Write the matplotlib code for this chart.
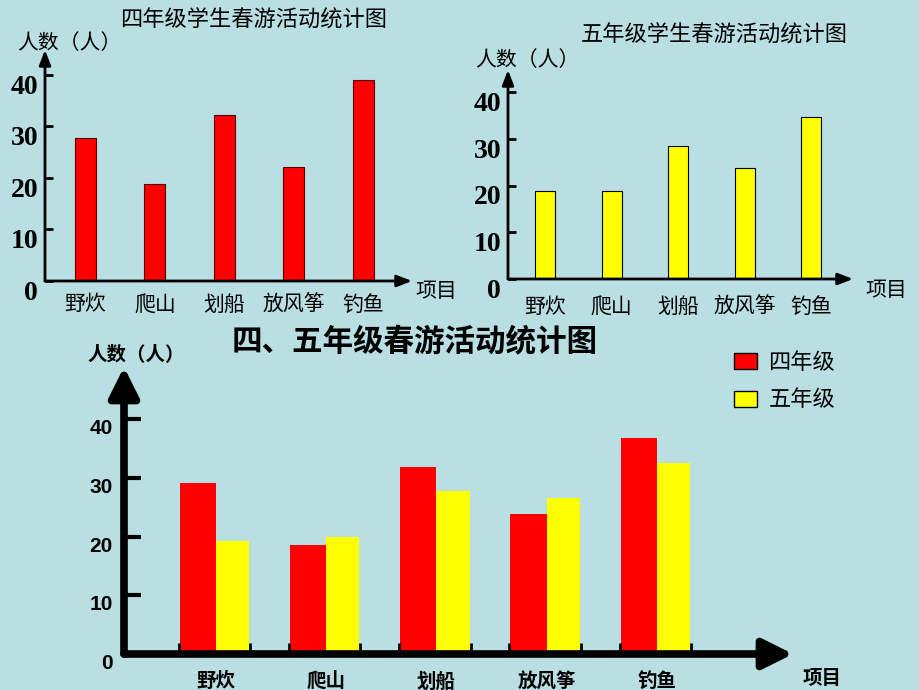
import matplotlib
matplotlib.use('Agg')
import matplotlib.pyplot as plt
import numpy as np

plt.rcParams['font.family'] = ['Noto Sans CJK SC', 'DejaVu Sans']

categories = ['野炊', '爬山', '划船', '放风筝', '钓鱼']
grade4_top = [27.8, 18.8, 32.2, 22.1, 39.0]
grade5_top = [18.8, 18.8, 28.4, 23.7, 34.7]
grade4_bottom = [29.1, 18.6, 31.8, 23.9, 36.8]
grade5_bottom = [19.3, 20.0, 27.7, 26.5, 32.5]
yticks = [0, 10, 20, 30, 40]
series_names = ['四年级', '五年级']

BG = '#BADFE3'
W, H = 920, 690


def px(x, y):
    return x / W, 1 - y / H


def make_axes(fig, left, right, base, top):
    # rect in pixels: y axis at left, arrow tip at right, baseline at base, arrow top at top
    ax = fig.add_axes([left / W, 1 - base / H, (right - left) / W, (base - top) / H])
    ax.set_facecolor('none')
    for s in ax.spines.values():
        s.set_visible(False)
    return ax


def arrows(ax, lw, scale, hl, hw):
    style = '-|>,head_length=%s,head_width=%s' % (hl, hw)
    for end in [(1, 0), (0, 1)]:
        ax.annotate('', xy=end, xytext=(0, 0), xycoords='axes fraction',
                    arrowprops=dict(arrowstyle=style, lw=lw, color='black',
                                    mutation_scale=scale, shrinkA=0, shrinkB=0))


fig = plt.figure(figsize=(9.2, 6.9), dpi=100)
fig.patch.set_facecolor(BG)

x = np.arange(len(categories))

# ---- top left: 四年级
ax1 = make_axes(fig, 45, 412, 281, 50)
ax1.bar(x, grade4_top, width=0.3, color='#FF0000', edgecolor='#550000', lw=0.8)
ax1.set_xlim((45 - 85.5) / 69.4, (412 - 85.5) / 69.4)
ax1.set_ylim(0, 40 * 231 / 206)
arrows(ax1, 2, 10, 0.9, 0.35)
ax1.set_yticks(yticks)
ax1.set_yticklabels([str(t) for t in yticks], fontfamily='Liberation Serif',
                    fontweight='bold', fontsize=20, va='top')
ax1.tick_params(axis='y', direction='in', length=6, width=2, pad=5)
ax1.set_xticks(x)
ax1.set_xticklabels(categories, fontsize=15)
ax1.tick_params(axis='x', length=0, pad=9)
fig.text(*px(254, 20), '四年级学生春游活动统计图', fontsize=16, ha='center', va='center')
fig.text(*px(17, 43), '人数（人）', fontsize=15, ha='left', va='center')
fig.text(*px(415, 291), '项目', fontsize=15, ha='left', va='center')

# ---- top right: 五年级
ax2 = make_axes(fig, 508, 853, 279, 70)
ax2.bar(x, grade5_top, width=0.3, color='#FFFF00', edgecolor='black', lw=0.8)
ax2.set_xlim((508 - 545) / 66.6, (853 - 545) / 66.6)
ax2.set_ylim(0, 40 * 209 / 187)
arrows(ax2, 2, 10, 0.9, 0.35)
ax2.set_yticks(yticks)
ax2.set_yticklabels([str(t) for t in yticks], fontfamily='Liberation Serif',
                    fontweight='bold', fontsize=20, va='top')
ax2.tick_params(axis='y', direction='in', length=6, width=2, pad=5)
ax2.set_xticks(x)
ax2.set_xticklabels(categories, fontsize=15)
ax2.tick_params(axis='x', length=0, pad=12)
fig.text(*px(714, 35), '五年级学生春游活动统计图', fontsize=16, ha='center', va='center')
fig.text(*px(475, 60), '人数（人）', fontsize=15, ha='left', va='center')
fig.text(*px(865, 290), '项目', fontsize=15, ha='left', va='center')

# ---- bottom: 四、五年级
ax3 = make_axes(fig, 124, 793, 654, 367)
b4 = ax3.bar(x, grade4_bottom, width=-0.33, align='edge', color='#FF0000', label=series_names[0])
b5 = ax3.bar(x, grade5_bottom, width=0.30, align='edge', color='#FFFF00', label=series_names[1])
ax3.set_xlim((124 - 216) / 110.25, (793 - 216) / 110.25)
ax3.set_ylim(0, 40 * 287 / 235)
arrows(ax3, 5.5, 20, 0.9, 0.45)
ax3.set_yticks(yticks)
ax3.set_yticklabels([str(t) for t in yticks], fontfamily='Liberation Sans',
                    fontweight='bold', fontsize=15, va='top')
ax3.tick_params(axis='y', direction='in', length=12, width=3, pad=8)
ax3.set_xticks(x)
ax3.set_xticklabels(categories, fontsize=14, fontweight='bold')
ax3.set_xticks(np.concatenate([x - 0.34, x + 0.31]), minor=True)
ax3.tick_params(axis='x', which='major', length=0, pad=13)
ax3.tick_params(axis='x', which='minor', direction='in', length=8, width=2)
fig.text(*px(415, 342), '四、五年级春游活动统计图', fontsize=22, fontweight='bold',
         ha='center', va='center')
fig.text(*px(87, 355), '人数（人）', fontsize=14, fontweight='bold', ha='left', va='center')
fig.text(*px(803, 678), '项目', fontsize=14, fontweight='bold', ha='left', va='center')

leg = fig.legend(handles=[b4, b5], loc='upper left', bbox_to_anchor=px(734, 351),
                 frameon=False, fontsize=16, handlelength=1.05, handleheight=0.72,
                 handletextpad=0.5, labelspacing=0.65, borderpad=0, borderaxespad=0)
for h in leg.legend_handles:
    h.set_edgecolor('black')
    h.set_linewidth(1)

fig.savefig('out.png', dpi=100, facecolor=BG)
